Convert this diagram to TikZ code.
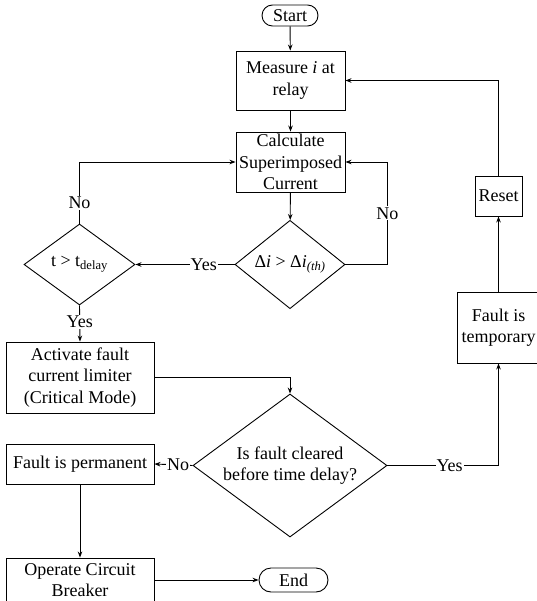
\documentclass[tikz,border=0pt]{standalone}
\usepackage{fontspec}
\setmainfont{Liberation Serif}
\usetikzlibrary{arrows.meta,shapes.geometric}
\tikzset{
  x=1pt,y=-1pt,
  every node/.style={font=\fontsize{18}{21.5}\selectfont},
  box/.style={draw,line width=0.9pt,inner sep=0pt,align=center},
  term/.style={draw,line width=0.9pt,inner sep=0pt,rounded corners=10.5pt,align=center},
  dec/.style={draw,line width=0.9pt,diamond,inner sep=0pt,align=center},
  arr/.style={line width=0.9pt,-{Stealth[length=6pt,width=4.5pt]}},
  lbl/.style={fill=white,inner sep=1pt}
}
\begin{document}
\begin{tikzpicture}
\useasboundingbox (0,0) rectangle (536,601);
\node[term,minimum width=56pt,minimum height=21pt] (start) at (290,15.5) {Start};
\node[box,minimum width=109pt,minimum height=59pt] (measure) at (290.5,80.5) {Measure \textit{i} at\\relay};
\node[box,minimum width=109pt,minimum height=60pt] (calc) at (290.5,162) {Calculate\\Superimposed\\Current};
\node[dec,minimum width=110pt,minimum height=81pt] (di) at (290,264.5) {Δ\textit{i} > Δ\textit{i}\textsubscript{\textit{(th)}}};
\node[dec,minimum width=111pt,minimum height=81pt] (td) at (79.5,264.5) {t > t\textsubscript{delay}};
\node[box,minimum width=148pt,minimum height=71pt] (act) at (80,377.5) {Activate fault\\current limiter\\(Critical Mode)};
\node[dec,minimum width=194pt,minimum height=143pt,aspect=1.357] (fc) at (290,465.5) {Is fault cleared\\before time delay?};
\node[box,minimum width=148pt,minimum height=40pt] (perm) at (80,464) {Fault is permanent};
\node[box,minimum width=148pt,minimum height=44pt] (oper) at (80,580) {Operate Circuit\\Breaker};
\node[term,minimum width=69pt,minimum height=24pt,rounded corners=12pt] (endn) at (293.5,580) {End};
\node[box,minimum width=47pt,minimum height=40pt] (reset) at (498.5,196) {Reset};
\node[box,minimum width=83pt,minimum height=71pt] (temp) at (498.5,327.5) {Fault is\\temporary};

\draw[arr] (start) -- (measure);
\draw[arr] (measure) -- (calc);
\draw[arr] (calc) -- (di);
\draw[arr] (di.west) -- (td.east) node[lbl,pos=0.31] {Yes};
\draw[arr] (di.east) -- ++(42,0) |- (calc.east) node[lbl,pos=0.25] {No};
\draw[arr] (td.north) |- (calc.west) node[lbl,pos=0.17] {No};
\draw[arr] (td.south) -- (act.north) node[lbl,pos=0.45] {Yes};
\draw[arr] (act.east) -| (fc.north);
\draw[arr] (fc.west) -- (perm.east) node[lbl,pos=0.38] {No};
\draw[arr] (fc.east) -| (temp.south) node[lbl,pos=0.28] {Yes};
\draw[arr] (temp.north) -- (reset.south);
\draw[arr] (reset.north) |- (measure.east);
\draw[arr] (perm.south) -- (oper.north);
\draw[arr] (oper.east) -- (endn.west);
\end{tikzpicture}
\end{document}
